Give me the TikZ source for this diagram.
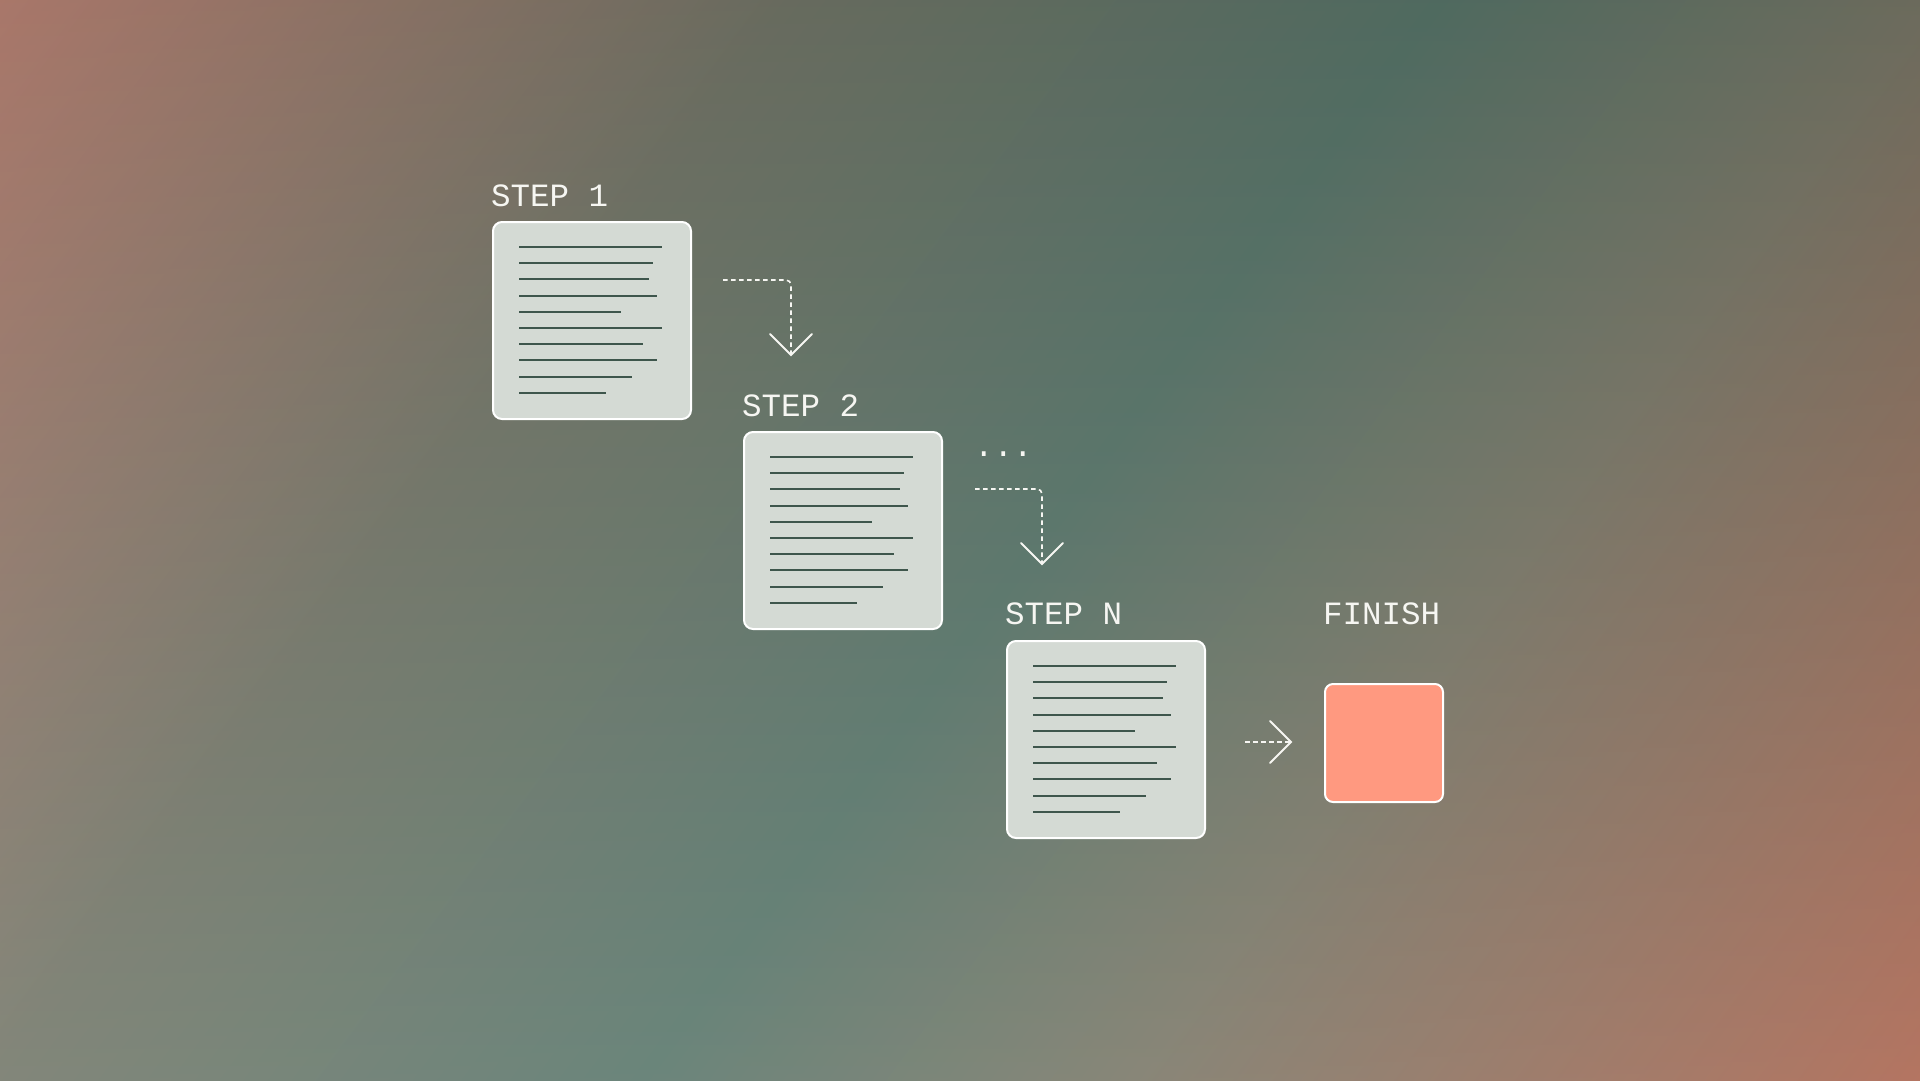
\documentclass[tikz,border=0pt]{standalone}
\usepackage{fontspec}
\setmonofont{Liberation Mono}
\usetikzlibrary{calc}
\definecolor{bgA}{RGB}{190,134,119}
\definecolor{bgB}{RGB}{116,120,106}
\definecolor{bgC}{RGB}{89,119,107}
\definecolor{bgD}{RGB}{122,120,104}
\definecolor{bgE}{RGB}{172,100,78}
\definecolor{boxfill}{RGB}{212,218,212}
\definecolor{linecol}{RGB}{62,86,76}
\definecolor{txt}{RGB}{246,246,242}
\definecolor{finfill}{RGB}{255,153,128}
\pgfdeclarehorizontalshading{bgshade}{3000pt}{color(0pt)=(bgA); color(634pt)=(bgB); color(1159pt)=(bgC); color(1552pt)=(bgD); color(2200pt)=(bgE)}
\tikzset{
  docbox/.style={draw=white, line width=2pt, fill=boxfill, rounded corners=9pt,
    minimum width=198pt, minimum height=197pt, inner sep=0pt, anchor=north west},
  finbox/.style={draw=white, line width=2pt, fill=finfill, rounded corners=8pt,
    minimum width=118pt, minimum height=118pt, inner sep=0pt, anchor=north west},
  txtline/.style={draw=linecol, line width=2pt},
  lbl/.style={text=txt, font=\ttfamily\fontsize{32.5}{39}\selectfont, inner sep=0pt, anchor=base west},
  dashline/.style={draw=txt, line width=1.6pt, dash pattern=on 4.5pt off 3.5pt, rounded corners=5pt},
  chev/.style={draw=txt, line width=2pt, line cap=round, line join=miter}
}
\begin{document}
\begin{tikzpicture}[x=1pt, y=-1pt]
\useasboundingbox (0,0) rectangle (1920,1080);
% background
\begin{scope}
\clip (0,0) rectangle (1920,1080);
\node[inner sep=0pt, outer sep=0pt, anchor=south west, rotate=-36.53] (bg) at (-893,1205) {\pgfuseshading{bgshade}};
\shade[top color=black, bottom color=white, opacity=0.11] (0,0) rectangle (1920,1080);
\end{scope}
% labels
\node[lbl] (l1) at (491,206) {STEP 1};
\node[lbl] (l2) at (742,416) {STEP 2};
\node[lbl] (l3) at (1005,624) {STEP N};
\node[lbl] (l4) at (1323,624) {FINISH};
% boxes
\node[docbox] (s1) at (492,221) {};
\node[docbox] (s2) at (743,431) {};
\node[docbox] (s3) at (1006,640) {};
\node[finbox] (fin) at (1324,683) {};
% text lines
\foreach \b in {s1,s2,s3}{
  \foreach \l [count=\i from 0] in {143,134,130,138,102,143,124,138,113,87}{
    \draw[txtline] ([shift={(27,26+16.2*\i)}]\b.north west) -- ++(\l,0);
  }
}
% dots
\node[lbl] (dots) at (974,456) {...};
% arrows
\coordinate (a1s) at (723,280);
\coordinate (a1t) at (791,355);
\coordinate (a2s) at (975,489);
\coordinate (a2t) at (1042,564);
\coordinate (a3s) at (1245,742);
\coordinate (a3t) at (1291,742);
\draw[dashline] (a1s) -| (a1t);
\draw[dashline] (a2s) -| (a2t);
\draw[dashline] (a3s) -- (a3t);
\draw[chev] ($(a1t)+(-21,-21)$) -- (a1t) -- ($(a1t)+(21,-21)$);
\draw[chev] ($(a2t)+(-21,-21)$) -- (a2t) -- ($(a2t)+(21,-21)$);
\draw[chev] ($(a3t)+(-21,-21)$) -- (a3t) -- ($(a3t)+(-21,21)$);
\end{tikzpicture}
\end{document}
